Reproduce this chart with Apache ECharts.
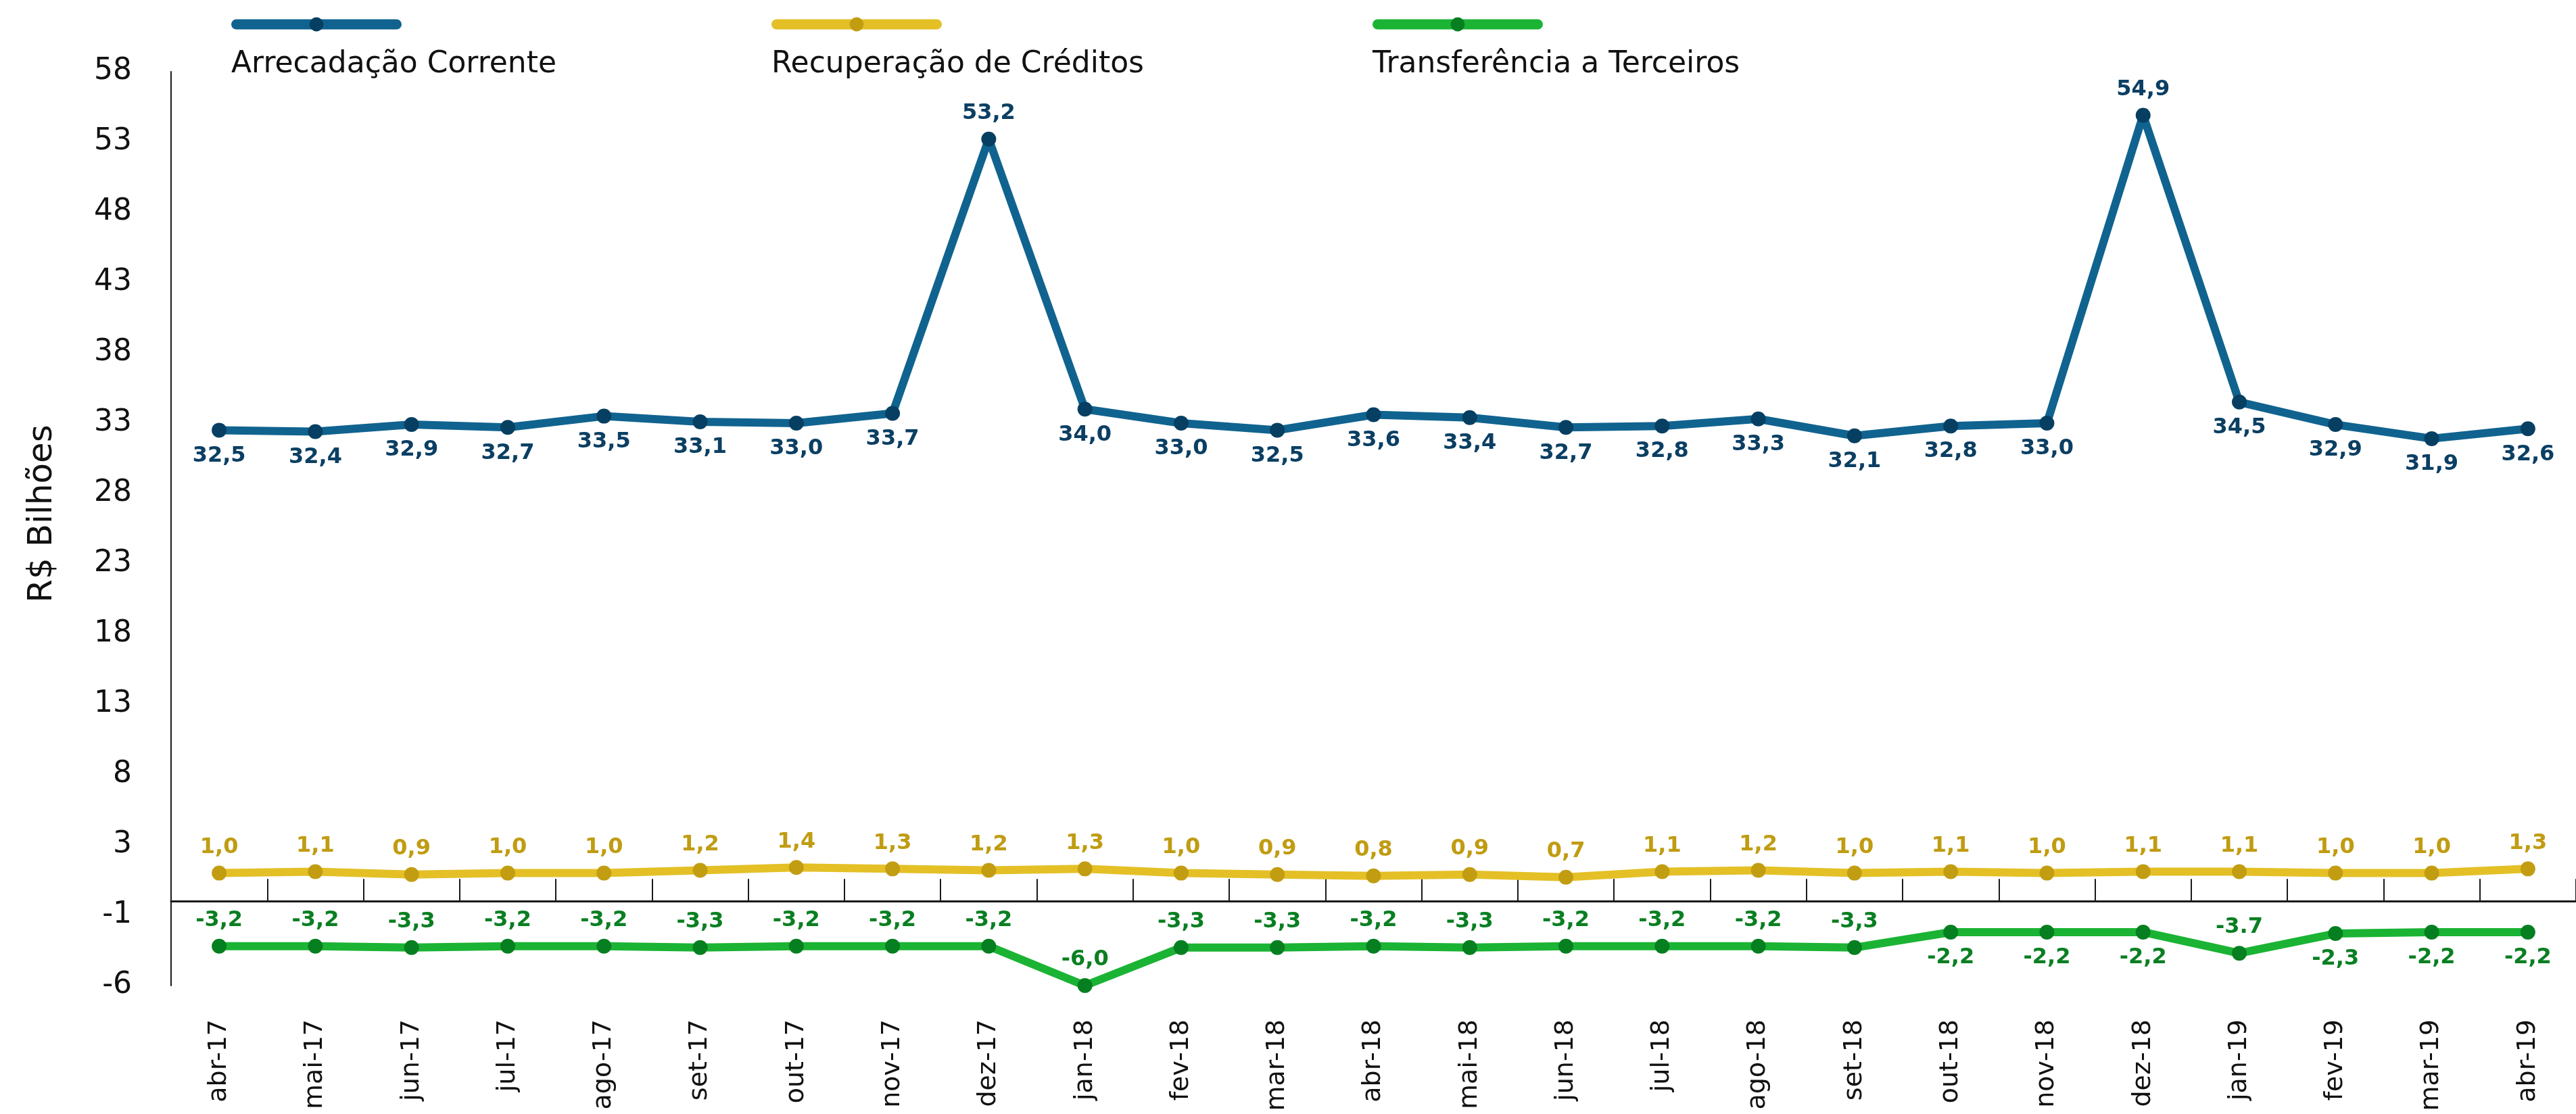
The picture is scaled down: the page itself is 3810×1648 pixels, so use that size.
<!DOCTYPE html>
<html>
<head>
<meta charset="utf-8">
<title>Arrecadação</title>
<script src="https://cdn.jsdelivr.net/npm/echarts@6/dist/echarts.min.js"></script>
<style>
  html, body { margin: 0; padding: 0; background: #fff; }
  #chart { width: 3810px; height: 1648px; }
</style>
</head>
<body>
<div id="chart"></div>
<script>
// meses (eixo x)
const meses = [
  "abr-17", "mai-17", "jun-17", "jul-17", "ago-17", "set-17", "out-17", "nov-17", "dez-17",
  "jan-18", "fev-18", "mar-18", "abr-18", "mai-18", "jun-18", "jul-18", "ago-18", "set-18",
  "out-18", "nov-18", "dez-18", "jan-19", "fev-19", "mar-19", "abr-19"
]

// R$ bilhões
const arrecadacaoCorrente = [
  32.5, 32.4, 32.9, 32.7, 33.5, 33.1, 33.0, 33.7, 53.2,
  34.0, 33.0, 32.5, 33.6, 33.4, 32.7, 32.8, 33.3, 32.1,
  32.8, 33.0, 54.9, 34.5, 32.9, 31.9, 32.6
]
const recuperacaoCreditos = [
  1.0, 1.1, 0.9, 1.0, 1.0, 1.2, 1.4, 1.3, 1.2,
  1.3, 1.0, 0.9, 0.8, 0.9, 0.7, 1.1, 1.2, 1.0,
  1.1, 1.0, 1.1, 1.1, 1.0, 1.0, 1.3
]
const transferenciaTerceiros = [
  -3.2, -3.2, -3.3, -3.2, -3.2, -3.3, -3.2, -3.2, -3.2,
  -6.0, -3.3, -3.3, -3.2, -3.3, -3.2, -3.2, -3.2, -3.3,
  -2.2, -2.2, -2.2, -3.7, -2.3, -2.2, -2.2
]

// rótulos do eixo y: 58 ... 3 no eixo principal, -1 e -6 no eixo da transferência
const ticksPrincipal = { min: -7, max: 58, interval: 5 }
const ticksTransferencia = { min: -6, max: 59, interval: 5 }

const NOMES = ["Arrecadação Corrente", "Recuperação de Créditos", "Transferência a Terceiros"]
const CORES_LINHA = ["#10638f", "#e4c026", "#1bb334"]
const CORES_PONTO = ["#063f62", "#c29d12", "#067f20"]
const CORES_ROTULO = ["#0b3f63", "#c09c12", "#0a7f22"]
const LEGENDA_X = [337, 1136, 2025]

const FONTE = "DejaVu Sans"

// valor com vírgula decimal (jan-19 da transferência aparece com ponto no original)
const formata = (v) => v.toFixed(1).replace(".", ",")

const chart = echarts.init(document.getElementById("chart"))

function serie (i, valores, eixo, posicao) {
  return {
    name: NOMES[i],
    type: "line",
    xAxisIndex: 0,
    yAxisIndex: eixo,
    data: valores.map((v) => ({ value: v, label: { position: posicao(v) } })),
    symbol: "circle",
    symbolSize: 22,
    lineStyle: { color: CORES_LINHA[i], width: 12, cap: "round", join: "round" },
    itemStyle: { color: CORES_PONTO[i] },
    label: {
      show: true,
      distance: 11,
      color: CORES_ROTULO[i],
      fontFamily: FONTE,
      fontWeight: "bold",
      fontSize: 32,
      formatter: (p) => (i === 2 && p.name === "jan-19") ? String(p.value) : formata(p.value)
    },
    emphasis: { disabled: true }
  }
}

const legendas = NOMES.map((nome, i) => ({
  data: [nome],
  left: LEGENDA_X[i],
  top: 18,
  itemWidth: 237,
  itemHeight: 26,
  selectedMode: false,
  formatter: () => "",
  textStyle: { fontSize: 1 },
  lineStyle: { width: 15, cap: "round" }
}))

const textosLegenda = NOMES.map((nome, i) => ({
  type: "text",
  left: LEGENDA_X[i] + 5,
  top: 74,
  style: { text: nome, fontFamily: FONTE, fontSize: 44, fill: "#111" }
}))

const option = {
  animation: false,
  backgroundColor: "#fff",
  legend: legendas,
  graphic: textosLegenda,
  grid: { left: 253, right: 0, top: 106, bottom: 190, containLabel: false, outerBoundsMode: "none" },
  xAxis: [
    {
      // rótulos dos meses, abaixo da área do gráfico
      type: "category",
      data: meses,
      position: "bottom",
      boundaryGap: true,
      axisLine: { show: false, onZero: false },
      axisTick: { show: false },
      axisLabel: {
        interval: 0,
        rotate: 90,
        margin: 50,
        fontFamily: FONTE,
        fontSize: 38,
        color: "#111"
      },
      splitLine: { show: false }
    },
    {
      // linha do zero com as marcas entre os meses
      type: "category",
      data: meses,
      position: "bottom",
      boundaryGap: true,
      axisLine: {
        show: true,
        onZero: true,
        onZeroAxisIndex: 1,
        lineStyle: { color: "#1a1a1a", width: 3 }
      },
      axisTick: { show: true, inside: true, length: 33, interval: 0, lineStyle: { color: "#1a1a1a", width: 2 } },
      axisLabel: { show: false },
      splitLine: { show: false }
    }
  ],
  yAxis: [
    {
      type: "value",
      ...ticksPrincipal,
      name: "R$ Bilhões",
      nameLocation: "middle",
      nameGap: 165,
      nameTextStyle: { fontFamily: FONTE, fontSize: 50, color: "#111", padding: [0, 0, 0, 44] },
      axisLine: { show: true, onZero: false, lineStyle: { color: "#1a1a1a", width: 2 } },
      axisTick: { show: false },
      splitLine: { show: false },
      axisLabel: {
        margin: 58,
        fontFamily: FONTE,
        fontSize: 44,
        color: "#111",
        formatter: (v) => (v >= 3 ? String(v) : "")
      }
    },
    {
      type: "value",
      ...ticksTransferencia,
      position: "left",
      axisLine: { show: false, onZero: false },
      axisTick: { show: false },
      splitLine: { show: false },
      axisLabel: {
        margin: 58,
        fontFamily: FONTE,
        fontSize: 44,
        color: "#111",
        formatter: (v) => (v <= -1 ? String(v) : "")
      }
    }
  ],
  series: [
    serie(0, arrecadacaoCorrente, 0, (v) => (v > 50 ? "top" : "bottom")),
    serie(1, recuperacaoCreditos, 0, () => "top"),
    serie(2, transferenciaTerceiros, 1, (v) => (v > -3 ? "bottom" : "top"))
  ]
}

chart.setOption(option)
</script>
</body>
</html>
